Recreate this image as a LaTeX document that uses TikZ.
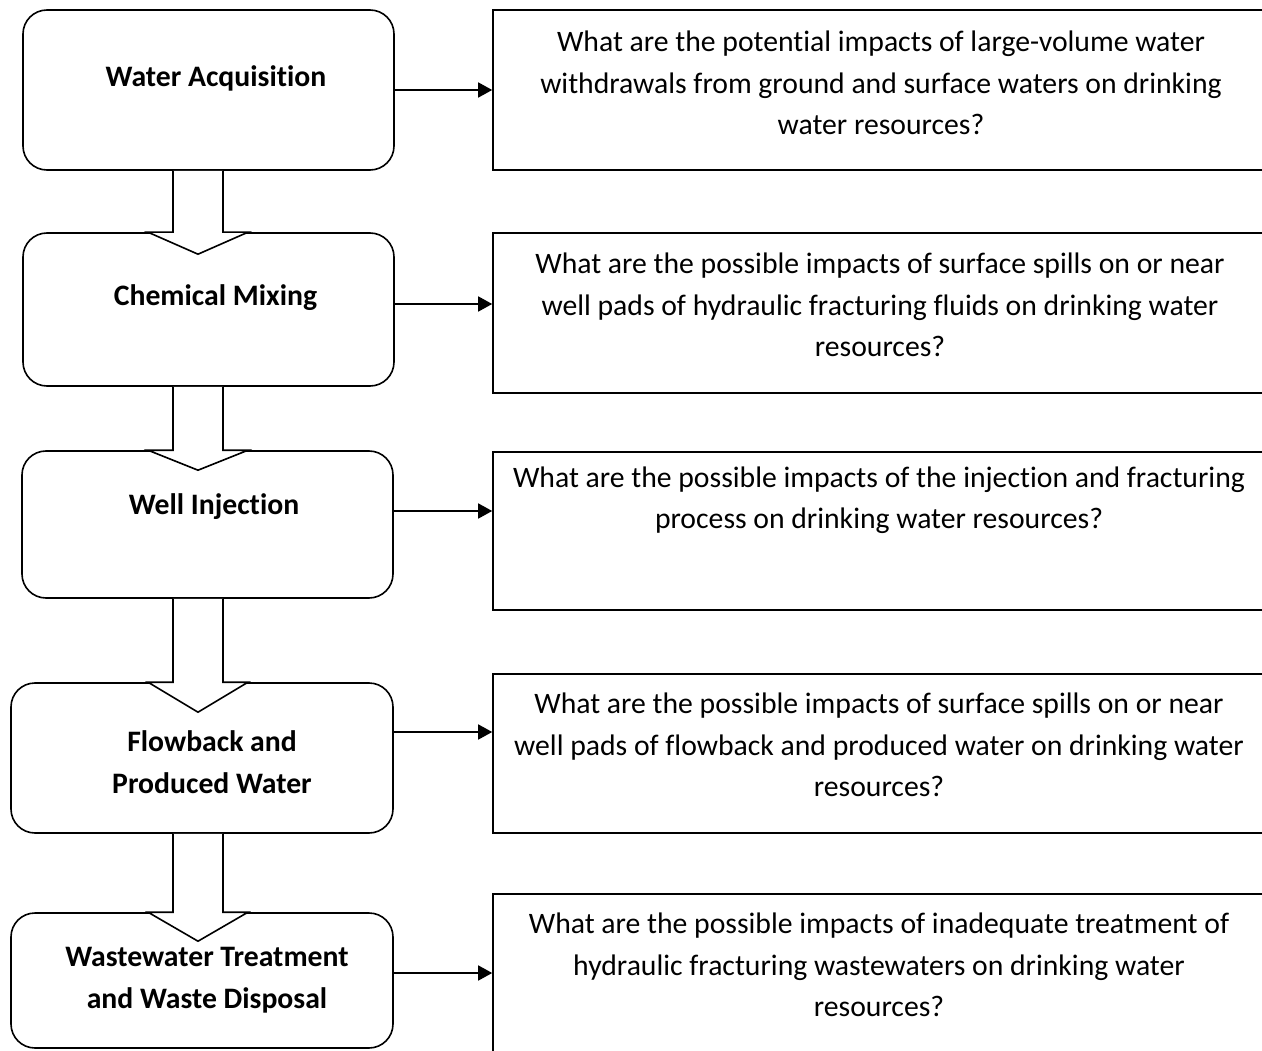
\documentclass[tikz,border=0pt]{standalone}
\usepackage{fontspec}
\setmainfont{Carlito}[Ligatures=NoCommon]
\usetikzlibrary{arrows.meta,calc}
\begin{document}
\begin{tikzpicture}[x=1pt,y=-1pt,
  stage/.style={draw, line width=1.6pt, rounded corners=24pt, inner sep=0pt, fill=white},
  qbox/.style={draw, line width=1.6pt, inner sep=0pt},
  stagetext/.style={font=\fontsize{29.7}{41.5}\selectfont\bfseries, align=center, inner sep=0pt},
  qtext/.style={font=\fontsize{29.7}{41.5}\selectfont, align=center, inner sep=0pt},
  link/.style={line width=1.6pt, -{Triangle[length=14pt,width=15pt]}},
  flow/.style={line width=1.6pt, fill=white, line join=miter}
]
\useasboundingbox (0,0) rectangle (1262,1051);

% stage boxes
\node[stage, minimum width=371pt, minimum height=160pt] (b1) at (208.5,90) {};
\node[stage, minimum width=371pt, minimum height=153pt] (b2) at (208.5,309.5) {};
\node[stage, minimum width=371pt, minimum height=147pt] (b3) at (207.5,524.5) {};
\node[stage, minimum width=382pt, minimum height=150pt] (b4) at (202,758) {};
\node[stage, minimum width=382pt, minimum height=135pt] (b5) at (202,980.5) {};

% question boxes
\node[qbox, minimum width=776pt, minimum height=160pt] (r1) at (881,90) {};
\node[qbox, minimum width=776pt, minimum height=160pt] (r2) at (881,313) {};
\node[qbox, minimum width=776pt, minimum height=158pt] (r3) at (881,531) {};
\node[qbox, minimum width=776pt, minimum height=159pt] (r4) at (881,753.5) {};
\node[qbox, minimum width=776pt, minimum height=166pt] (r5) at (881,977) {};

% stage texts
\node[stagetext] (t1) at (216,78) {Water Acquisition};
\node[stagetext] (t2) at (215.5,298) {Chemical Mixing};
\node[stagetext] (t3) at (214,507) {Well Injection};
\node[stagetext] (t4) at (212,762) {Flowback and\\Produced Water};
\node[stagetext] (t5) at (207,980) {Wastewater Treatment\\and Waste Disposal};

% question texts
\node[qtext] (q1) at (881,83) {What are the potential impacts of large-volume water\\withdrawals from ground and surface waters on drinking\\water resources?};
\node[qtext] (q2) at (880,305) {What are the possible impacts of surface spills on or near\\well pads of hydraulic fracturing fluids on drinking water\\resources?};
\node[qtext] (q3) at (879,500) {What are the possible impacts of the injection and fracturing\\process on drinking water resources?};
\node[qtext] (q4) at (879,745) {What are the possible impacts of surface spills on or near\\well pads of flowback and produced water on drinking water\\resources?};
\node[qtext] (q5) at (879,965) {What are the possible impacts of inadequate treatment of\\hydraulic fracturing wastewaters on drinking water\\resources?};

% levels of the side arrows
\coordinate (y1) at (0,90);
\coordinate (y2) at (0,304);
\coordinate (y3) at (0,511);
\coordinate (y4) at (0,732);
\coordinate (y5) at (0,973);
\draw[link] (b1.east |- y1) -- (r1.west |- y1);
\draw[link] (b2.east |- y2) -- (r2.west |- y2);
\draw[link] (b3.east |- y3) -- (r3.west |- y3);
\draw[link] (b4.east |- y4) -- (r4.west |- y4);
\draw[link] (b5.east |- y5) -- (r5.west |- y5);

% block arrows between stages
\coordinate (sl) at (173,0);
\coordinate (sr) at (223,0);
\coordinate (hl) at (148,0);
\coordinate (hr) at (248,0);
\coordinate (tp) at (198,0);
\filldraw[flow] (sl |- b1.south) -- (sl |- b2.north) -- (hl |- b2.north) -- ($(tp |- b2.north)+(0,22)$) -- (hr |- b2.north) -- (sr |- b2.north) -- (sr |- b1.south);
\filldraw[flow] (sl |- b2.south) -- (sl |- b3.north) -- (hl |- b3.north) -- ($(tp |- b3.north)+(0,20)$) -- (hr |- b3.north) -- (sr |- b3.north) -- (sr |- b2.south);
\filldraw[flow] (sl |- b3.south) -- (sl |- b4.north) -- (hl |- b4.north) -- ($(tp |- b4.north)+(0,30)$) -- (hr |- b4.north) -- (sr |- b4.north) -- (sr |- b3.south);
\filldraw[flow] (sl |- b4.south) -- (sl |- b5.north) -- (hl |- b5.north) -- ($(tp |- b5.north)+(0,29)$) -- (hr |- b5.north) -- (sr |- b5.north) -- (sr |- b4.south);
\end{tikzpicture}
\end{document}
